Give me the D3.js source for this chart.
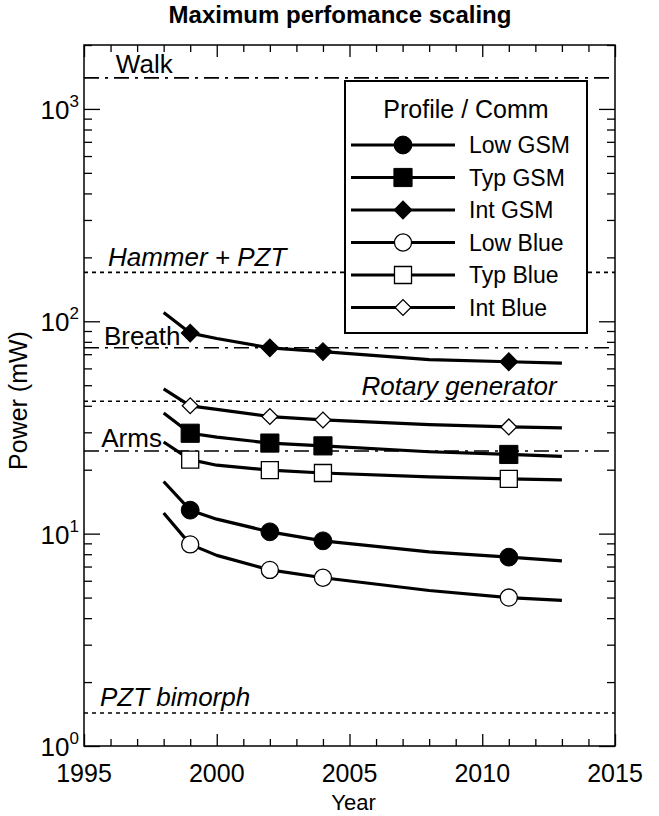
<!DOCTYPE html>
<html>
<head>
<meta charset="utf-8">
<script src="https://cdn.jsdelivr.net/npm/d3@7"></script>
<style>
  body { margin: 0; background: #fff; }
  svg { font-family: "Liberation Sans", Arial, sans-serif; }
</style>
</head>
<body>
<div id="chart"></div>
<script>
// data
const years = [1998, 1999, 2000, 2002, 2004, 2008, 2011, 2013];
const markerYears = [1999, 2002, 2004, 2011];

const seriesNames = ["Low GSM", "Typ GSM", "Int GSM", "Low Blue", "Typ Blue", "Int Blue"];
const lowGSM  = [17.6, 12.9, 11.7, 10.2, 9.25, 8.2, 7.75, 7.45];
const typGSM  = [37, 29.7, 28.5, 26.7, 25.9, 24.3, 23.6, 23.1];
const intGSM  = [110, 88, 83, 75, 72, 66, 64.5, 63.5];
const lowBlue = [12.5, 8.9, 7.9, 6.75, 6.2, 5.4, 5.0, 4.85];
const typBlue = [27, 22.3, 21, 19.9, 19.3, 18.5, 18.1, 17.9];
const intBlue = [48, 40, 38.5, 35.6, 34.3, 32.6, 31.8, 31.5];

const refNames  = ["Walk", "Hammer + PZT", "Breath", "Rotary generator", "Arms", "PZT bimorph"];
const refValues = [1400, 170, 75, 42, 24.5, 1.43];
const refKinds  = ["dashdot", "dot", "dashdot", "dot", "dashdot", "dot"];

const xTicks = [1995, 2000, 2005, 2010, 2015];
const yTicks = [1, 10, 100, 1000];
const yExponents = ["0", "1", "2", "3"];

const W = 659, H = 816;
const margin = { top: 45, right: 44, bottom: 70, left: 84 };
const width = W - margin.left - margin.right;
const height = H - margin.top - margin.bottom;

const svg = d3.select("#chart")
    .append("svg")
    .attr("width", W)
    .attr("height", H);

const g = svg.append("g")
    .attr("transform", `translate(${margin.left},${margin.top})`);

const x = d3.scaleLinear().domain([1995, 2015]).range([0, width]);
const y = d3.scaleLog().domain([1, 2000]).range([height, 0]);

// title
svg.append("text")
    .attr("x", 340)
    .attr("y", 23)
    .attr("text-anchor", "middle")
    .style("font-size", "24px")
    .style("font-weight", "bold")
    .text("Maximum perfomance scaling");

// minor ticks
const xMinor = d3.range(1995, 2016).filter(v => v % 5 !== 0);
const yMinor = [];
[1, 10, 100, 1000].forEach(d => {
    for (let k = 2; k <= 9; k++) if (d * k <= 2000) yMinor.push(d * k);
});

function styleAxis(sel) {
    sel.select(".domain").remove();
    sel.selectAll("line").attr("stroke", "#000").attr("stroke-width", 1.3);
}

g.append("g").attr("transform", `translate(0,${height})`)
    .call(d3.axisBottom(x).tickValues(xTicks).tickSize(-12).tickFormat(""))
    .call(styleAxis);
g.append("g").attr("transform", `translate(0,${height})`)
    .call(d3.axisBottom(x).tickValues(xMinor).tickSize(-7).tickFormat(""))
    .call(styleAxis);
g.append("g")
    .call(d3.axisTop(x).tickValues(xTicks).tickSize(-12).tickFormat(""))
    .call(styleAxis);
g.append("g")
    .call(d3.axisTop(x).tickValues(xMinor).tickSize(-7).tickFormat(""))
    .call(styleAxis);

g.append("g")
    .call(d3.axisLeft(y).tickValues(yTicks).tickSize(-16).tickFormat(""))
    .call(styleAxis);
g.append("g")
    .call(d3.axisLeft(y).tickValues(yMinor).tickSize(-8).tickFormat(""))
    .call(styleAxis);
g.append("g").attr("transform", `translate(${width},0)`)
    .call(d3.axisRight(y).tickValues(yTicks).tickSize(-16).tickFormat(""))
    .call(styleAxis);
g.append("g").attr("transform", `translate(${width},0)`)
    .call(d3.axisRight(y).tickValues(yMinor).tickSize(-8).tickFormat(""))
    .call(styleAxis);

// frame
g.append("rect")
    .attr("width", width)
    .attr("height", height)
    .attr("fill", "none")
    .attr("stroke", "#000")
    .attr("stroke-width", 1.5);

// tick labels
g.selectAll(".xlab")
    .data(xTicks)
    .enter().append("text")
    .attr("x", d => x(d))
    .attr("y", height + 36)
    .attr("text-anchor", "middle")
    .style("font-size", "25px")
    .text(d => d);

const ylab = g.selectAll(".ylab")
    .data(yTicks)
    .enter().append("text")
    .attr("x", -5)
    .attr("y", d => y(d) + 10)
    .attr("text-anchor", "end")
    .style("font-size", "26px");
ylab.append("tspan").text("10");
ylab.append("tspan")
    .attr("dy", -12)
    .style("font-size", "17px")
    .text((d, i) => yExponents[i]);

// axis titles
svg.append("text")
    .attr("transform", `translate(27,${margin.top + height / 2 + 5}) rotate(-90)`)
    .attr("text-anchor", "middle")
    .style("font-size", "25px")
    .text("Power (mW)");
svg.append("text")
    .attr("x", margin.left + width / 2 + 4)
    .attr("y", 810)
    .attr("text-anchor", "middle")
    .style("font-size", "22px")
    .text("Year");

// reference lines
const dashes = { dashdot: "15,6,3,6", dot: "4,4" };
g.selectAll(".ref")
    .data(refValues)
    .enter().append("line")
    .attr("x1", 0)
    .attr("x2", width)
    .attr("y1", d => y(d))
    .attr("y2", d => y(d))
    .attr("stroke", "#000")
    .attr("stroke-width", 1.6)
    .attr("stroke-dasharray", (d, i) => dashes[refKinds[i]]);

// label placement: [year, dy, anchor, italic]
const refLabelPos = [
    [1996.2, -5, "start", false],
    [1995.9, -6, "start", true],
    [1995.75, -3, "start", false],
    [2012.8, -6, "end", true],
    [1995.65, -4, "start", false],
    [1995.6, -7, "start", true]
];
g.selectAll(".reflab")
    .data(refValues)
    .enter().append("text")
    .attr("x", (d, i) => x(refLabelPos[i][0]))
    .attr("y", (d, i) => y(d) + refLabelPos[i][1])
    .attr("text-anchor", (d, i) => refLabelPos[i][2])
    .style("font-style", (d, i) => refLabelPos[i][3] ? "italic" : "normal")
    .style("font-size", "26px")
    .text((d, i) => refNames[i]);

// series
const series = [lowGSM, typGSM, intGSM, lowBlue, typBlue, intBlue].map((vals, i) => ({
    name: seriesNames[i],
    shape: ["circle", "square", "diamond"][i % 3],
    filled: i < 3,
    points: years.map((yr, j) => ({ year: yr, value: vals[j] }))
}));

const line = d3.line().x(d => x(d.year)).y(d => y(d.value));

g.selectAll(".series")
    .data(series)
    .enter().append("path")
    .attr("d", d => line(d.points))
    .attr("fill", "none")
    .attr("stroke", "#000")
    .attr("stroke-width", 3.2)
    .attr("stroke-linejoin", "round");

// diamonds are squares turned 45 degrees
const symbolSizes = { circle: 250, square: 330, diamond: 160 };
const openSizes = { circle: 230, square: 290, diamond: 125 };

function drawMarker(sel, s) {
    const size = s.filled ? symbolSizes[s.shape] : openSizes[s.shape];
    const type = s.shape === "circle" ? d3.symbolCircle : d3.symbolSquare;
    sel.append("path")
        .attr("d", d3.symbol().type(type).size(size))
        .attr("transform", s.shape === "diamond" ? "rotate(45)" : null)
        .attr("fill", s.filled ? "#000" : "#fff")
        .attr("stroke", "#000")
        .attr("stroke-width", s.filled ? 1 : 1.3);
}

series.forEach(s => {
    s.points.filter(p => markerYears.includes(p.year)).forEach(p => {
        const m = g.append("g").attr("transform", `translate(${x(p.year)},${y(p.value)})`);
        drawMarker(m, s);
    });
});

// legend
const legend = svg.append("g").attr("transform", "translate(345,81)");
legend.append("rect")
    .attr("width", 242)
    .attr("height", 252)
    .attr("fill", "#fff")
    .attr("stroke", "#000")
    .attr("stroke-width", 2);
legend.append("text")
    .attr("x", 121)
    .attr("y", 37)
    .attr("text-anchor", "middle")
    .style("font-size", "25px")
    .text("Profile / Comm");

series.forEach((s, i) => {
    const row = legend.append("g").attr("transform", `translate(0,${64 + i * 32.5})`);
    row.append("line")
        .attr("x1", 6).attr("x2", 110)
        .attr("stroke", "#000")
        .attr("stroke-width", 3.2);
    drawMarker(row.append("g").attr("transform", "translate(58,0)"), s);
    row.append("text")
        .attr("x", 124)
        .attr("y", 8)
        .style("font-size", "23px")
        .text(s.name);
});
</script>
</body>
</html>
